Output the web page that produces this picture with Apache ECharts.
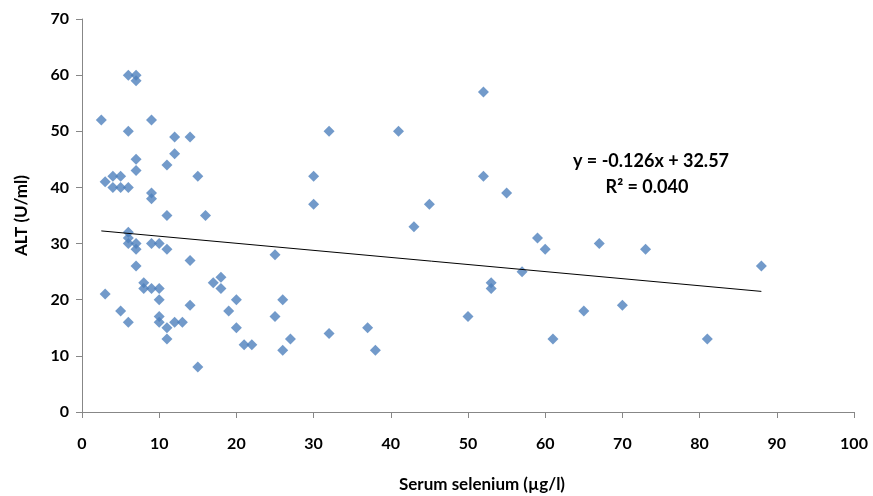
<!DOCTYPE html>
<html>
<head>
<meta charset="utf-8">
<script src="https://cdn.jsdelivr.net/npm/echarts@6/dist/echarts.min.js"></script>
<style>
  html, body { margin: 0; padding: 0; background: #fff; }
  #chart { width: 873px; height: 496px; }
</style>
</head>
<body>
<div id="chart"></div>
<script>
// serum selenium (µg/l) and ALT (U/ml)
const seleniumValues = [2.5, 3, 3, 4, 5, 4, 5, 6, 5, 6, 7, 7, 6, 6, 6, 6, 7, 7, 6, 7, 7, 7, 8, 8,
  9, 9, 9, 9, 10, 9, 10, 10, 10, 10, 11, 11, 11, 11, 11, 12, 12, 12, 13, 14, 14, 14, 15, 15,
  16, 17, 18, 18, 19, 20, 20, 21, 22, 25, 25, 26, 26, 27, 30, 30, 32, 32, 37, 38, 41, 43, 45,
  50, 52, 52, 53, 53, 55, 57, 59, 60, 61, 65, 67, 70, 73, 81, 88]
const altValues = [52, 41, 21, 42, 42, 40, 40, 40, 18, 60, 60, 59, 50, 32, 31, 30, 30, 29, 16, 45, 43, 26, 23, 22,
  52, 39, 38, 30, 30, 22, 22, 20, 17, 16, 44, 35, 29, 15, 13, 49, 46, 16, 16, 49, 27, 19, 42, 8,
  35, 23, 24, 22, 18, 20, 15, 12, 12, 28, 17, 20, 11, 13, 42, 37, 50, 14, 15, 11, 50, 33, 37,
  17, 57, 42, 23, 22, 39, 25, 31, 29, 13, 18, 30, 19, 29, 13, 26]
const xTicks = [0, 100, 10]
const yTicks = [0, 70, 10]
// linear fit shown on the figure
const trendSlope = -0.126
const trendIntercept = 32.57
const trendText = ['y = -0.126x + 32.57', 'R² = 0.040']

let points = seleniumValues.map((x, i) => [x, altValues[i]])
let xmin = Math.min(...seleniumValues)
let xmax = Math.max(...seleniumValues)
let trendLine = [
  [xmin, trendSlope * xmin + trendIntercept],
  [xmax, trendSlope * xmax + trendIntercept]
]

let chart = echarts.init(document.getElementById('chart'))
let labelFont = { color: '#000', fontSize: 16, fontWeight: 'bold', fontFamily: 'Lato, sans-serif' }
let nameFont = { color: '#000', fontSize: 17, fontWeight: 'bold', fontFamily: 'Lato, sans-serif' }
let axisGray = '#878787'

let option = {
  animation: false,
  grid: { left: 82, right: 19, top: 19, bottom: 84, outerBoundsMode: 'none' },
  xAxis: {
    type: 'value',
    min: xTicks[0],
    max: xTicks[1],
    interval: xTicks[2],
    name: 'Serum selenium (µg/l)',
    nameLocation: 'middle',
    nameGap: 64,
    nameTextStyle: Object.assign({ padding: [0, 0, 0, 28] }, nameFont),
    axisLine: { lineStyle: { color: axisGray } },
    axisTick: { show: true, length: 6, lineStyle: { color: axisGray } },
    axisLabel: Object.assign({ margin: 24 }, labelFont),
    splitLine: { show: false }
  },
  yAxis: {
    type: 'value',
    min: yTicks[0],
    max: yTicks[1],
    interval: yTicks[2],
    name: 'ALT (U/ml)',
    nameLocation: 'middle',
    nameGap: 52,
    nameTextStyle: nameFont,
    axisLine: { show: true, lineStyle: { color: axisGray } },
    axisTick: { show: true, length: 6, lineStyle: { color: axisGray } },
    axisLabel: Object.assign({ margin: 13 }, labelFont),
    splitLine: { show: false }
  },
  series: [
    {
      type: 'scatter',
      data: points,
      symbol: 'diamond',
      symbolSize: 11,
      itemStyle: { color: '#4F81BD' }
    },
    {
      type: 'line',
      data: trendLine,
      symbol: 'none',
      lineStyle: { color: '#000', width: 1 },
      z: 3
    }
  ],
  graphic: [
    {
      type: 'text',
      x: 651,
      y: 161,
      style: {
        text: trendText[0],
        textAlign: 'center',
        textVerticalAlign: 'middle',
        fill: '#000',
        font: 'bold 18px Lato, sans-serif'
      }
    },
    {
      type: 'text',
      x: 647,
      y: 187,
      style: {
        text: trendText[1],
        textAlign: 'center',
        textVerticalAlign: 'middle',
        fill: '#000',
        font: 'bold 18px Lato, sans-serif'
      }
    }
  ]
}

chart.setOption(option)
</script>
</body>
</html>
